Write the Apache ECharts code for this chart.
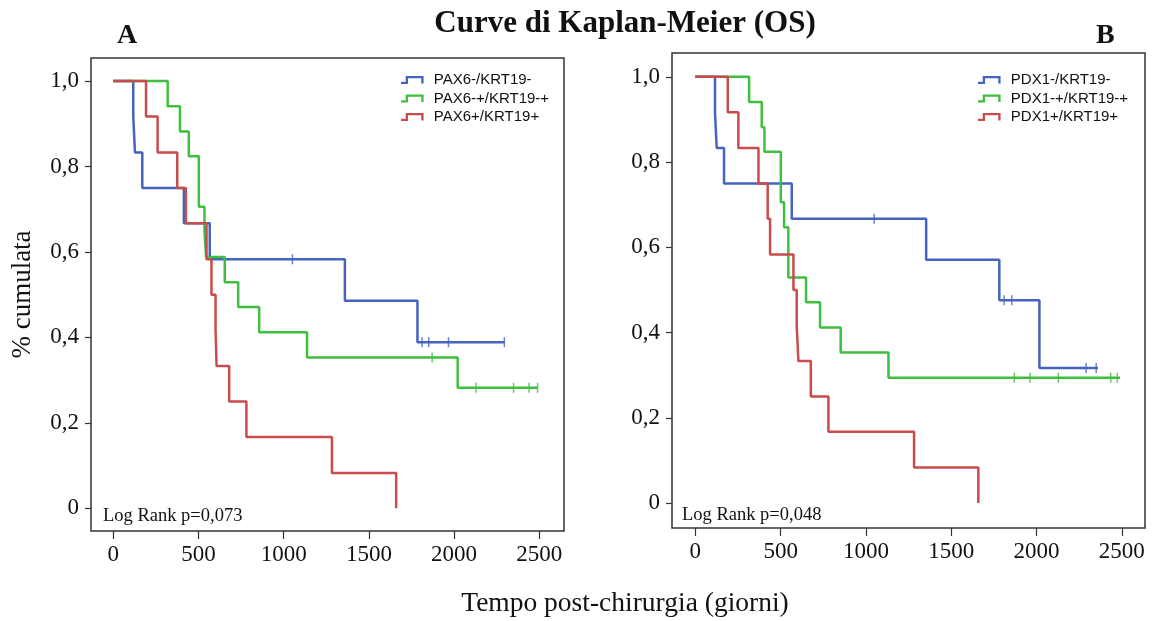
<!DOCTYPE html>
<html>
<head>
<meta charset="utf-8">
<script src="https://cdn.jsdelivr.net/npm/echarts@6/dist/echarts.min.js"></script>
<style>html,body{margin:0;padding:0;background:#fff}#c{width:1154px;height:621px}</style>
</head>
<body>
<div id="c"></div>
<script>
// ---------- Data (Kaplan-Meier steps: time in days, cumulative survival) ----------
const xTicks = [0, 500, 1000, 1500, 2000, 2500];
const yTicks = [0, 0.2, 0.4, 0.6, 0.8, 1.0];

// Panel A
const namesA = ['PAX6-/KRT19-', 'PAX6-+/KRT19-+', 'PAX6+/KRT19+'];
const aBlueT = [0, 117, 127, 170, 414, 566, 1359, 1785, 2295];
const aBlueS = [1, 0.917, 0.833, 0.75, 0.667, 0.583, 0.486, 0.389, 0.389];
const aBlueC = [1051, 1812, 1851, 1967, 2295];
const aGreenT = [0, 319, 391, 443, 502, 535, 545, 654, 733, 856, 1137, 2021, 2490];
const aGreenS = [1, 0.941, 0.882, 0.824, 0.706, 0.647, 0.588, 0.529, 0.471, 0.412, 0.353, 0.282, 0.282];
const aGreenC = [1871, 2129, 2349, 2440, 2490];
const aRedT = [0, 192, 260, 375, 426, 547, 576, 600, 606, 680, 781, 1283, 1660];
const aRedS = [1, 0.917, 0.833, 0.75, 0.667, 0.583, 0.5, 0.417, 0.333, 0.25, 0.167, 0.083, 0];
const aRedC = [];

// Panel B
const namesB = ['PDX1-/KRT19-', 'PDX1-+/KRT19-+', 'PDX1+/KRT19+'];
const bBlueT = [0, 115, 125, 168, 565, 1353, 1782, 2017, 2360];
const bBlueS = [1, 0.917, 0.833, 0.75, 0.667, 0.571, 0.476, 0.317, 0.317];
const bBlueC = [1048, 1810, 1855, 2291, 2350];
const bGreenT = [0, 315, 389, 405, 501, 520, 545, 649, 731, 852, 1132, 2490];
const bGreenS = [1, 0.941, 0.882, 0.824, 0.706, 0.647, 0.529, 0.471, 0.412, 0.353, 0.294, 0.294];
const bGreenC = [1870, 1962, 2128, 2435, 2474];
const bRedT = [0, 190, 252, 370, 424, 438, 575, 594, 604, 677, 780, 1282, 1659];
const bRedS = [1, 0.917, 0.833, 0.75, 0.667, 0.583, 0.5, 0.417, 0.333, 0.25, 0.167, 0.083, 0];
const bRedC = [];

const pValA = 'Log Rank p=0,073';
const pValB = 'Log Rank p=0,048';

// ---------- Helpers ----------
const COLORS = ['#4563bf', '#3fbf3f', '#c94b4b'];
const SERIF = '"Liberation Serif", "Times New Roman", serif';
const SANS = '"Liberation Sans", Arial, sans-serif';

function pts(T, S) { return T.map((t, i) => [t, S[i]]); }
function survAt(T, S, t) { let v = S[0]; for (let i = 0; i < T.length; i++) { if (T[i] <= t) v = S[i]; } return v; }
function cens(T, S, C) { return C.map(t => [t, survAt(T, S, t)]); }

function curve(name, T, S, C, color, idx) {
  return [
    { name, type: 'line', step: 'end', xAxisIndex: idx, yAxisIndex: idx, symbol: 'none',
      data: pts(T, S), lineStyle: { color, width: 2.5 }, itemStyle: { color }, z: 3 },
    { name, type: 'scatter', xAxisIndex: idx, yAxisIndex: idx, symbol: 'rect', symbolSize: [1.5, 10],
      data: cens(T, S, C), itemStyle: { color }, z: 4, silent: true }
  ];
}

const LEG_ICON = 'path://M0,6 L5,6 L5,0 L24,0 L24,8 L21.5,8 L21.5,2.5 L7.5,2.5 L7.5,8.5 L0,8.5 Z';
function legend(names, left, top) {
  return {
    data: names.map((n, i) => ({ name: n, itemStyle: { color: COLORS[i] } })),
    orient: 'vertical', left, top, icon: LEG_ICON, itemWidth: 23, itemHeight: 8, itemGap: 2.5,
    selectedMode: false,
    textStyle: { fontFamily: SANS, fontSize: 15, color: '#111', lineHeight: 16, padding: [0, 0, 0, 5] }
  };
}
function xAxis(idx, min, max) {
  return {
    type: 'value', gridIndex: idx, min, max, position: 'bottom',
    axisLine: { show: false, onZero: false }, splitLine: { show: false },
    axisTick: { show: true, length: 8, customValues: xTicks, lineStyle: { color: '#333', width: 1.2 } },
    axisLabel: { customValues: xTicks, margin: 12, fontFamily: SERIF, fontSize: 23, color: '#111',
      formatter: v => String(Math.round(v)) }
  };
}
function yAxis(idx, min, max, name) {
  return {
    type: 'value', gridIndex: idx, min, max, position: 'left',
    name: name || '', nameLocation: 'middle', nameGap: 55, nameRotate: 90,
    nameTextStyle: { fontFamily: SERIF, fontSize: 27, color: '#111' },
    axisLine: { show: false, onZero: false }, splitLine: { show: false },
    axisTick: { show: true, length: 6, customValues: yTicks, lineStyle: { color: '#333', width: 1.2 } },
    axisLabel: { customValues: yTicks, margin: 12, fontFamily: SERIF, fontSize: 23, color: '#111',
      formatter: v => (Math.abs(v) < 1e-9 ? '0' : v.toFixed(1).replace('.', ',')) }
  };
}

const chart = echarts.init(document.getElementById('c'), null, { renderer: 'canvas' });
chart.setOption({
  animation: false,
  backgroundColor: '#fff',
  title: [
    { text: 'Curve di Kaplan-Meier (OS)', left: 620, top: 3, textAlign: 'center',
      textStyle: { fontFamily: SERIF, fontSize: 31, fontWeight: 'bold', color: '#111' } },
    { text: 'A', left: 112, top: 17, textStyle: { fontFamily: SERIF, fontSize: 28, fontWeight: 'bold', color: '#111' } },
    { text: 'B', left: 1091, top: 17, textStyle: { fontFamily: SERIF, fontSize: 28, fontWeight: 'bold', color: '#111' } },
    { text: 'Tempo post-chirurgia (giorni)', left: 620, top: 585, textAlign: 'center',
      textStyle: { fontFamily: SERIF, fontSize: 27.5, fontWeight: 'normal', color: '#111' } }
  ],
  grid: [
    { left: 91, top: 58, width: 473, height: 473, show: true, borderColor: '#333', borderWidth: 1.5, backgroundColor: '#fff' },
    { left: 672, top: 53, width: 473, height: 475, show: true, borderColor: '#333', borderWidth: 1.5, backgroundColor: '#fff' }
  ],
  xAxis: [xAxis(0, -131, 2645), xAxis(1, -137, 2636)],
  yAxis: [yAxis(0, -0.053, 1.054, '% cumulata'), yAxis(1, -0.0587, 1.056)],
  legend: [legend(namesA, 396, 67), legend(namesB, 973, 67)],
  graphic: [
    { type: 'text', left: 103, top: 507, style: { text: pValA, font: '18.5px ' + SERIF, fill: '#111' } },
    { type: 'text', left: 682, top: 506, style: { text: pValB, font: '18.5px ' + SERIF, fill: '#111' } }
  ],
  series: [
    ...curve(namesA[0], aBlueT, aBlueS, aBlueC, COLORS[0], 0),
    ...curve(namesA[1], aGreenT, aGreenS, aGreenC, COLORS[1], 0),
    ...curve(namesA[2], aRedT, aRedS, aRedC, COLORS[2], 0),
    ...curve(namesB[0], bBlueT, bBlueS, bBlueC, COLORS[0], 1),
    ...curve(namesB[1], bGreenT, bGreenS, bGreenC, COLORS[1], 1),
    ...curve(namesB[2], bRedT, bRedS, bRedC, COLORS[2], 1)
  ]
});
</script>
</body>
</html>
